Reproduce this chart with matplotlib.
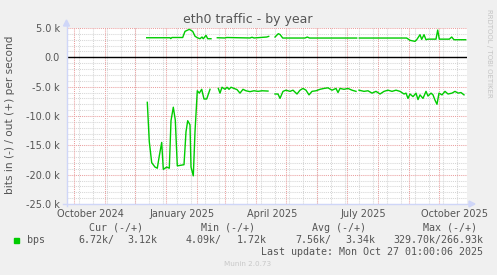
import datetime as dt
import numpy as np
import matplotlib
matplotlib.use("Agg")
import matplotlib.pyplot as plt
from matplotlib.patches import Polygon, Rectangle
from matplotlib.lines import Line2D

W, H = 497, 275

# munin "year" view = 400 days back from last update; x is days since t0
t0 = dt.datetime(2024, 9, 22, 1, 0)

# out (+) traffic, kbit/s  (nan = no data)
out_day = [81.7, 105, 105.7, 107, 117.7, 120, 124.3, 127.7, 130, 132.3, 135, 137, 138.3,
           141, 142.7, 146, 149, 152.3, 160, 161.7, 185, 187, 189, 201.7, 203.7, 207,
           210, 213.3, 215, 217.7, 240, 242.3, 244.5, 291.7, 293, 294.3, 341.7, 345,
           350, 351.7, 355, 356.7, 359, 361, 363, 371, 372.7, 374.3, 384.3, 386.7, 389,
           400.7]
out_kbps = [3.34, 3.34, 3.2, 3.38, 3.38, 4.43, 4.77, 4.43, 3.6, 3.34, 3.17, 3.46, 3.17,
            3.75, 3.17, 3.17, np.nan, 3.34, 3.3, 3.38, 3.3, 3.42, 3.3, 3.46, 3.57, np.nan,
            3.46, 4.03, 3.9, 3.29, 3.29, 3.46, 3.29, 3.29, np.nan, 3.29, 3.29, 2.9,
            2.72, 3.0, 3.86, 3.06, 3.86, 3.0, 3.1, 3.1, 4.65, 3.1, 3.1, 3.46, 3.0,
            3.0]

# in (-) traffic, kbit/s (drawn below zero)
in_day = [82.3, 84.3, 86.7, 90, 92.3, 94.3, 96.7, 98.3, 101.7, 104.3, 106, 108.3, 110.3,
          112.3, 119, 121, 122.7, 125, 126, 128.3, 130, 132.3, 134.3, 136.7, 139, 141.7,
          145, 149, 153.3, 155, 157, 160, 162, 164, 166, 169, 172, 175, 178, 181, 185,
          189, 193, 197, 203, 207, 210, 213, 215, 218, 221, 225, 228, 232, 235, 238,
          241, 244, 247, 251, 255, 259, 263, 267, 271, 273, 275, 279, 283, 287, 291,
          293, 294, 299, 303, 307, 311, 315, 319, 323, 327, 331, 335, 339, 341, 343,
          345, 348, 351, 353, 355, 358, 361, 363, 366, 368, 370, 372, 374, 377, 380,
          383, 387, 390, 393, 396, 399]
in_kbps = [7.67, 14.4, 17.95, 18.7, 18.9, 16.8, 14.5, 19.1, 18.7, 18.9, 10.8, 8.5, 10.7,
           18.5, 18.3, 12.7, 10.8, 11.5, 18.7, 20.2, 12.7, 5.7, 6.1, 5.45, 7.1, 7.1,
           5.45, np.nan, 5.3, 6.1, 5.1, 5.45, 5.1, 5.45, 5.1, 5.3, 5.5, 6.1, 5.45, 5.7, 5.85,
           5.7, 5.8, 5.7, 5.75, np.nan, 6.25, 6.25, 7.0, 5.8, 5.6, 5.8, 5.6, 6.25, 5.6, 5.3,
           5.6, 6.4, 5.8, 5.7, 5.45, 5.3, 5.2, 5.6, 5.3, 6.0, 5.3, 5.45, 5.3, 5.6, 5.8,
           np.nan, 5.6, 5.8, 5.7, 6.1, 5.8, 6.25, 5.8, 5.6, 5.8, 5.6, 5.8, 6.25, 6.1, 7.0,
           6.25, 6.7, 6.1, 7.2, 6.4, 7.0, 5.8, 6.6, 6.1, 6.4, 7.3, 8.0, 6.1, 6.4, 5.8,
           6.25, 6.1, 5.8, 6.1, 6.0, 6.4]

ytick_vals = [-25000, -20000, -15000, -10000, -5000, 0, 5000]
ytick_labels = ["-25.0 k", "-20.0 k", "-15.0 k", "-10.0 k", "-5.0 k", "0.0", "5.0 k"]
xlabel_months = [(2024, 10), (2025, 1), (2025, 4), (2025, 7), (2025, 10)]
xlabel_text = ["October 2024", "January 2025", "April 2025", "July 2025", "October 2025"]

legend_head = ["Cur (-/+)", "Min (-/+)", "Avg (-/+)", "Max (-/+)"]
legend_vals = [("6.72k/", "3.12k"), ("4.09k/", "1.72k"), ("7.56k/", "3.34k")]
legend_max = "329.70k/266.93k"
last_update = "Last update: Mon Oct 27 01:00:06 2025"


def days(d):
    return (d - t0).total_seconds() / 86400.0


def fx(px):
    return px / W


def fy(py):
    return 1 - py / H


plt.rcParams["font.family"] = "DejaVu Sans"
txt = "#555555"

fig = plt.figure(figsize=(W / 100, H / 100), dpi=100, facecolor="#F0F0F0")
ax = fig.add_axes([fx(66.5), 71 / H, 400 / W, 176 / H])
ax.set_facecolor("white")
ax.set_xlim(1.5, 401.5)
ax.set_ylim(-25000, 5000)
for s in ax.spines.values():
    s.set_visible(False)

# grid: minor grey, major red, dotted
dots = (0, (1, 1))
for v in range(-25000, 5001, 1000):
    if v % 5000:
        ax.axhline(v, color="#D6D6D6", lw=0.75, ls=dots, zorder=1)
d = 14.0
while d < 401.5:
    ax.axvline(d, color="#D6D6D6", lw=0.75, ls=dots, zorder=1)
    d += 14
for v in ytick_vals:
    ax.axhline(v, color="#EAA0A0", lw=0.75, ls=dots, zorder=2)
for y in (2024, 2025):
    for m in range(1, 13):
        p = days(dt.datetime(y, m, 1))
        if 1.5 < p < 401.5:
            ax.axvline(p, color="#EAA0A0", lw=0.75, ls=dots, zorder=2)
ax.axhline(0, color="black", lw=1.0, zorder=3)

ax.plot(out_day, np.array(out_kbps) * 1000, color="#00CC00", lw=1.0, zorder=4)
ax.plot(in_day, -np.array(in_kbps) * 1000, color="#00CC00", lw=1.0, zorder=4)

ax.set_yticks(ytick_vals)
ax.set_yticklabels(ytick_labels)
ax.set_xticks([days(dt.datetime(y, m, 17)) for y, m in xlabel_months])
ax.set_xticklabels(xlabel_text)
ax.tick_params(length=0, labelsize=7, labelcolor=txt)
ax.tick_params(axis="y", pad=4.6)
ax.tick_params(axis="x", pad=3.5)

# axes with arrows (munin light blue)
axc = "#CFD6F8"
fig.add_artist(Line2D([fx(66.5), fx(66.5)], [fy(206), fy(24)], color=axc, lw=1))
fig.add_artist(Line2D([fx(63), fx(470)], [fy(204), fy(204)], color=axc, lw=1))
fig.add_artist(Polygon([(fx(63.5), fy(26)), (fx(69.5), fy(26)), (fx(66.5), fy(20))],
                       closed=True, color=axc, transform=fig.transFigure))
fig.add_artist(Polygon([(fx(469), fy(201)), (fx(469), fy(207)), (fx(475), fy(204))],
                       closed=True, color=axc, transform=fig.transFigure))

fig.text(fx(248), fy(19), "eth0 traffic - by year", ha="center", va="center",
         fontsize=9, color=txt)
fig.text(fx(10), fy(115), "bits in (-) / out (+) per second", rotation=90,
         ha="center", va="center", fontsize=7.6, color=txt)
fig.text(fx(488.5), fy(53), "RRDTOOL / TOBI OETIKER", rotation=270, ha="center",
         va="center", fontsize=5, color="#C4C4C4")

# legend block (monospace like rrdtool)
mono = dict(family="DejaVu Sans Mono", fontsize=7.2, color=txt, va="center")
for x, t in zip([89, 201, 312, 423], legend_head):
    fig.text(fx(x), fy(228), t, ha="left", **mono)
fig.add_artist(Rectangle((fx(14), fy(243)), 5 / W, 5 / H, color="#00CC00",
                         transform=fig.transFigure))
fig.text(fx(27), fy(240), "bps", ha="left", **mono)
for (xl, xr), (a, b) in zip([(78, 157), (186, 267), (295, 375)], legend_vals):
    fig.text(fx(xl), fy(240), a, ha="left", **mono)
    fig.text(fx(xr), fy(240), b, ha="right", **mono)
fig.text(fx(483), fy(240), legend_max, ha="right", **mono)
fig.text(fx(483), fy(252), last_update, ha="right", **mono)
fig.text(fx(248), fy(264), "Munin 2.0.73", ha="center", va="center", fontsize=5.2,
         color="#C8C8C8")

fig.savefig("out.png", dpi=100, facecolor=fig.get_facecolor())
